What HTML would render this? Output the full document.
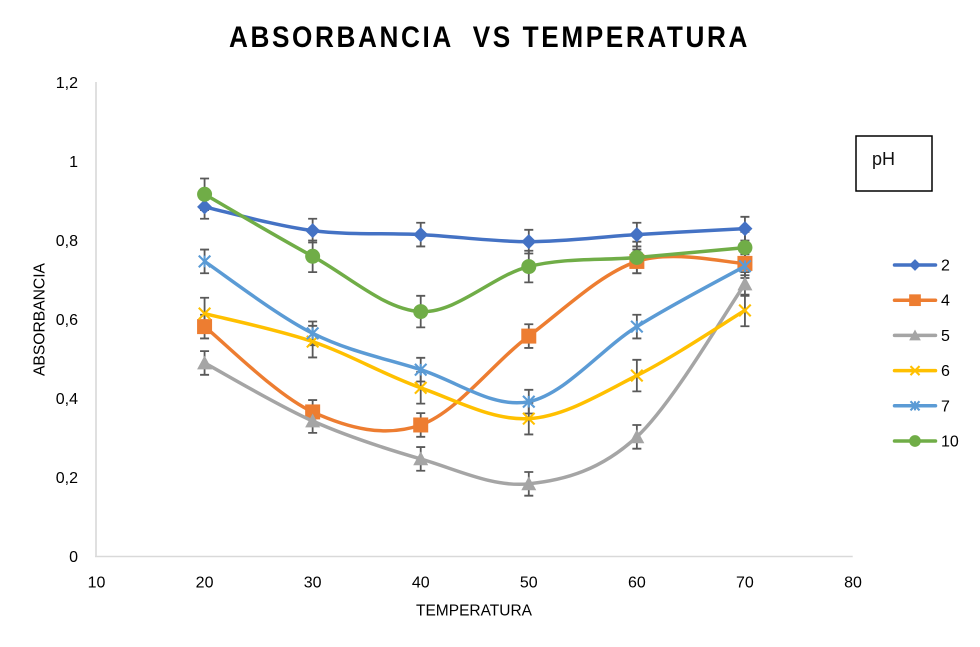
<!DOCTYPE html>
<html lang="es">
<head>
<meta charset="utf-8">
<title>Absorbancia vs Temperatura</title>
<style>
html,body{margin:0;padding:0;background:#fff;}
body{width:980px;height:647px;overflow:hidden;}
svg{display:block;font-family:"Liberation Sans",sans-serif;}
</style>
</head>
<body>
<svg id="chart" width="980" height="647" viewBox="0 0 980 647" xmlns="http://www.w3.org/2000/svg">
  <rect x="0" y="0" width="980" height="647" fill="#ffffff"/>
  <text x="229" y="47" font-size="30" font-weight="700" letter-spacing="3" fill="#000000" textLength="521" lengthAdjust="spacingAndGlyphs" xml:space="preserve">ABSORBANCIA  VS TEMPERATURA</text>
  <line x1="96" y1="82" x2="96" y2="557" stroke="#d9d9d9" stroke-width="1.6"/>
  <line x1="95" y1="556.5" x2="852.7" y2="556.5" stroke="#d9d9d9" stroke-width="1.6"/>
  <g id="y-ticks"></g>
  <g id="x-ticks"></g>
  <text transform="translate(44.5 319.5) rotate(-90)" text-anchor="middle" font-size="16" fill="#000000" textLength="113" lengthAdjust="spacingAndGlyphs">ABSORBANCIA</text>
  <text x="474" y="615.5" text-anchor="middle" font-size="16" fill="#000000" textLength="116" lengthAdjust="spacingAndGlyphs">TEMPERATURA</text>
  <g id="error-bars"></g>
  <g id="series"></g>
  <g id="legend"></g>
  <rect x="856" y="136" width="76" height="55" fill="#ffffff" stroke="#000000" stroke-width="1.5"/>
  <text x="872" y="165" font-size="18" fill="#111111">pH</text>
</svg>
<script>
const categories = [20, 30, 40, 50, 60, 70];
const ph2 = [0.885, 0.825, 0.815, 0.797, 0.815, 0.83];
const ph4 = [0.582, 0.366, 0.333, 0.558, 0.747, 0.742];
const ph5 = [0.49, 0.343, 0.247, 0.184, 0.303, 0.69];
const ph6 = [0.615, 0.544, 0.427, 0.349, 0.458, 0.623];
const ph7 = [0.747, 0.565, 0.473, 0.392, 0.582, 0.735];
const ph10 = [0.917, 0.76, 0.62, 0.734, 0.757, 0.782];
const seriesNames = ['2', '4', '5', '6', '7', '10'];
const errorAmounts = [0.03, 0.03, 0.03, 0.04, 0.03, 0.04];
const yTickValues = [0, 0.2, 0.4, 0.6, 0.8, 1, 1.2];
const yTickLabels = ['0', '0,2', '0,4', '0,6', '0,8', '1', '1,2'];
const xTickValues = [10, 20, 30, 40, 50, 60, 70, 80];

const seriesValues = [ph2, ph4, ph5, ph6, ph7, ph10];
const seriesColors = ['#4472C4', '#ED7D31', '#A5A5A5', '#FFC000', '#5B9BD5', '#70AD47'];
const seriesMarkers = ['diamond', 'square', 'triangle', 'x', 'star', 'circle'];

const NS = 'http://www.w3.org/2000/svg';
const xScale = v => 96.5 + (v - 10) * (853 - 96.5) / 70;
const yScale = v => 556.5 - v * (556.5 - 82.5) / 1.2;

function make(tag, parent, attrs) {
  const el = document.createElementNS(NS, tag);
  Object.keys(attrs).forEach(k => el.setAttribute(k, attrs[k]));
  parent.appendChild(el);
  return el;
}

function smoothPath(pts) {
  let d = 'M' + pts[0][0] + ' ' + pts[0][1];
  for (let i = 0; i < pts.length - 1; i++) {
    const p0 = pts[Math.max(i - 1, 0)];
    const p1 = pts[i];
    const p2 = pts[i + 1];
    const p3 = pts[Math.min(i + 2, pts.length - 1)];
    const c1x = p1[0] + (p2[0] - p0[0]) / 6;
    const c1y = p1[1] + (p2[1] - p0[1]) / 6;
    const c2x = p2[0] - (p3[0] - p1[0]) / 6;
    const c2y = p2[1] - (p3[1] - p1[1]) / 6;
    d += 'C' + c1x + ' ' + c1y + ' ' + c2x + ' ' + c2y + ' ' + p2[0] + ' ' + p2[1];
  }
  return d;
}

function drawMarker(parent, type, x, y, color, scale) {
  const r = 7.5 * scale;
  let el;
  if (type === 'diamond') {
    el = make('polygon', parent, {points: (x) + ',' + (y - r) + ' ' + (x + r) + ',' + y + ' ' + x + ',' + (y + r) + ' ' + (x - r) + ',' + y, fill: color});
  } else if (type === 'square') {
    el = make('rect', parent, {x: x - r, y: y - r, width: 2 * r, height: 2 * r, fill: color});
  } else if (type === 'triangle') {
    el = make('polygon', parent, {points: x + ',' + (y - r) + ' ' + (x + r) + ',' + (y + r * 0.85) + ' ' + (x - r) + ',' + (y + r * 0.85), fill: color});
  } else if (type === 'circle') {
    el = make('circle', parent, {cx: x, cy: y, r: r, fill: color});
  } else {
    const a = 5.8 * scale;
    let d = 'M' + (x - a) + ' ' + (y - a) + 'L' + (x + a) + ' ' + (y + a) + 'M' + (x - a) + ' ' + (y + a) + 'L' + (x + a) + ' ' + (y - a);
    if (type === 'star') {
      d += 'M' + x + ' ' + (y - a) + 'L' + x + ' ' + (y + a);
    }
    el = make('path', parent, {d: d, fill: 'none', stroke: color, 'stroke-width': 2.1});
  }
  return el;
}

const yTicksGroup = document.getElementById('y-ticks');
yTickValues.forEach((v, i) => {
  const t = make('text', yTicksGroup, {x: 78, y: yScale(v) + 5.5, 'text-anchor': 'end', 'font-size': 16, fill: '#000000'});
  
  
  t.textContent = yTickLabels[i];
});

const xTicksGroup = document.getElementById('x-ticks');
xTickValues.forEach(v => {
  const t = make('text', xTicksGroup, {x: xScale(v), y: 587.5, 'text-anchor': 'middle', 'font-size': 16, fill: '#000000'});
  
  
  t.textContent = v;
});

const errorGroup = document.getElementById('error-bars');
seriesValues.forEach((vals, s) => {
  vals.forEach((v, i) => {
    const x = xScale(categories[i]);
    const top = yScale(v + errorAmounts[s]);
    const bottom = yScale(v - errorAmounts[s]);
    const d = 'M' + x + ' ' + top + 'L' + x + ' ' + bottom + 'M' + (x - 4.5) + ' ' + top + 'L' + (x + 4.5) + ' ' + top + 'M' + (x - 4.5) + ' ' + bottom + 'L' + (x + 4.5) + ' ' + bottom;
    const bar = make('path', errorGroup, {d: d, fill: 'none', stroke: '#595959', 'stroke-width': 1.8});
    
    
  });
});

const seriesGroup = document.getElementById('series');
seriesValues.forEach((vals, s) => {
  const pts = vals.map((v, i) => [xScale(categories[i]), yScale(v)]);
  const line = make('path', seriesGroup, {d: smoothPath(pts), fill: 'none', stroke: seriesColors[s], 'stroke-width': 3.5, 'stroke-linecap': 'round', 'stroke-linejoin': 'round'});
  
  
  pts.forEach(p => {
    const m = drawMarker(seriesGroup, seriesMarkers[s], p[0], p[1], seriesColors[s], 1);
    
    
  });
});

const legendGroup = document.getElementById('legend');
seriesNames.forEach((name, s) => {
  const y = 265 + s * 35.2;
  const l = make('line', legendGroup, {x1: 894.5, y1: y, x2: 935.5, y2: y, stroke: seriesColors[s], 'stroke-width': 3.5, 'stroke-linecap': 'round'});
  
  
  const m = drawMarker(legendGroup, seriesMarkers[s], 915, y, seriesColors[s], 0.78);
  
  
  const t = make('text', legendGroup, {x: 941, y: y + 5.5, 'font-size': 16, fill: '#000000'});
  
  
  t.textContent = name;
});
</script>
</body>
</html>
